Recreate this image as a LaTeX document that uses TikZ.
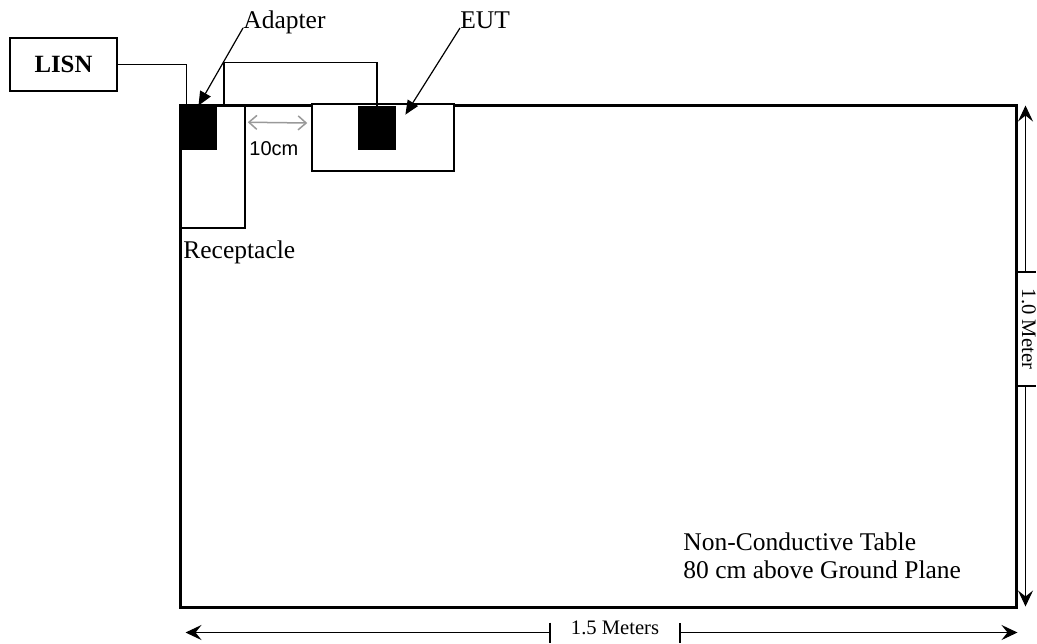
\documentclass[tikz,border=0pt]{standalone}
\usepackage{fontspec}
\setmainfont{Liberation Serif}
\newfontfamily\arialfont{Liberation Sans}
\usetikzlibrary{arrows.meta}

\tikzset{
  label text/.style={font=\fontsize{12.75}{14}\selectfont, inner sep=0pt},
  dim text/.style={font=\fontsize{10.3}{12}\selectfont, inner ysep=0pt},
  box/.style={draw, line width=0.75pt, inner sep=0pt},
  plug/.style={fill=black, inner sep=0pt, minimum width=18.5pt, minimum height=22pt},
  wire/.style={line width=0.75pt},
  pointer/.style={line width=0.6pt, -{Triangle[length=7pt,width=6pt]}},
  dimline/.style={line width=0.6pt, {Stealth[length=8pt,width=7.5pt,inset=3pt]}-{Bar[width=10pt]}}
}

\begin{document}
\begin{tikzpicture}[x=0.5pt, y=-0.5pt]
  \useasboundingbox (0,0) rectangle (1037,643);
  % table and the boxes on it
  \node[box, minimum width=32.5pt, minimum height=61pt] (recept) at (212.5,167) {};
  \node[draw, line width=1.5pt, inner sep=0pt, minimum width=418pt, minimum height=251pt] (table) at (598,356) {};
  \node[plug] (adapter) at (198.5,128) {};
  \node[box, fill=white, minimum width=71pt, minimum height=33.5pt] (eut) at (383,137.5) {};
  \node[plug, minimum width=19pt] (eutplug) at (377,128) {};
  \node[box, minimum width=53.5pt, minimum height=26.5pt, font=\bfseries\fontsize{12.4}{14}\selectfont] (lisn) at (63.5,64.5) {LISN};
  % wires
  \draw[wire] (lisn.east) -| ([xshift=3.5pt]adapter.north west);
  \draw[wire] ([xshift=5.75pt]recept.north) -- ++(0,-43) -| (eutplug.north);
  % labels
  \node[label text, anchor=base west] (adaptlbl) at (243,28) {Adapter};
  \node[label text, anchor=base west] (eutlbl) at (460,28) {EUT};
  \node[label text, anchor=base west] (recptlbl) at (183,258) {Receptacle};
  \node[label text, anchor=north west, align=left, font=\fontsize{12.75}{14}\selectfont] (tablelbl) at (683,532) {Non-Conductive Table\\80 cm above Ground Plane};
  \node[inner sep=0pt, anchor=base west, font=\arialfont\fontsize{10}{12}\selectfont] (gaplbl) at (249,155) {10cm};
  \draw[pointer] (adaptlbl.base west) -- (adapter.north);
  \draw[pointer] (eutlbl.base west) -- ([shift={(9,9)}]eutplug.north east);
  \draw[gray!80, line width=0.75pt, {Straight Barb[length=4pt,width=7pt]}-{Straight Barb[length=4pt,width=7pt]}]
    ([shift={(2,17)}]recept.north east) -- ([shift={(-4,-14.5)}]eut.west);
  % dimensions
  \node[dim text, inner xsep=10pt] (widthlbl) at (615,628) {1.5 Meters};
  \coordinate (wl) at ([shift={(7,24)}]table.south west);
  \coordinate (wr) at ([shift={(0,24)}]table.south east);
  \draw[dimline] (wl) -- (wl -| widthlbl.west);
  \draw[dimline] (wr) -- (wr -| widthlbl.east);
  \node[dim text, inner xsep=8pt, rotate=-90, anchor=base] (heightlbl) at (1022,329) {1.0 Meter};
  \coordinate (ht) at ([shift={(8,2)}]table.north east);
  \coordinate (hb) at ([shift={(8,-2)}]table.south east);
  \draw[dimline] (ht) -- (heightlbl.west -| ht);
  \draw[dimline] (hb) -- (heightlbl.east -| hb);
\end{tikzpicture}
\end{document}
